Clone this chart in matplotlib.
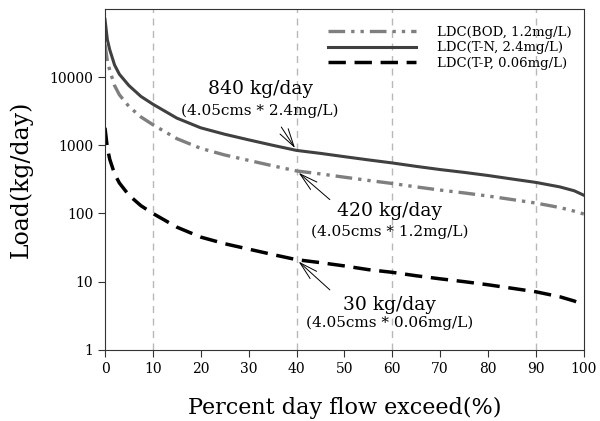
import numpy as np
import matplotlib
matplotlib.use("Agg")
import matplotlib.pyplot as plt
import matplotlib.ticker as ticker

plt.rcParams['font.family'] = ['DejaVu Serif']

# percent of days the flow is exceeded
pct = [0, 0.5, 1, 2, 3, 5, 7.5, 10, 15, 20, 25, 30, 35, 40, 45, 50,
       55, 60, 65, 70, 75, 80, 85, 90, 95, 98, 100]

# load duration curves (kg/day)
bod = [30000, 17000, 12500, 7500, 5500, 3700, 2600, 2000, 1250, 900, 720, 600,
       500, 420, 380, 340, 305, 275, 245, 220, 200, 180, 160, 142, 122, 108, 98]
tn = [70000, 35000, 25000, 15000, 11000, 7500, 5200, 4000, 2500, 1800, 1450, 1200,
      1000, 840, 760, 680, 610, 550, 490, 440, 400, 360, 320, 285, 245, 215, 185]
tp = [1800, 900, 620, 380, 280, 185, 130, 100, 63, 45, 36, 30,
      25, 21, 19, 17, 15, 13.7, 12.2, 11, 10, 9, 8, 7.1, 6, 5.2, 4.6]

labels = ['LDC(BOD, 1.2mg/L)', 'LDC(T-N, 2.4mg/L)', 'LDC(T-P, 0.06mg/L)']
grid_x = [10, 40, 60, 90]

fig = plt.figure(figsize=(6, 4.21), dpi=100)
ax = fig.add_axes([0.175, 0.169, 0.798, 0.810])

for gx in grid_x:
    ax.axvline(gx, color='#b8b8b8', lw=1, ls=(0, (5, 4)), zorder=1)

ax.plot(pct, bod, color='#7f7f7f', lw=2.4, ls=(0, (5, 1.8, 1, 1.8, 1, 1.8)), label=labels[0])
ax.plot(pct, tn, color='#404040', lw=2.2, label=labels[1])
ax.plot(pct, tp, color='black', lw=2.5, ls=(0, (5, 2.5)), label=labels[2])

ax.set_yscale('log')
ax.set_ylim(1, 100000)
ax.set_xlim(0, 100)
ax.set_yticks([1, 10, 100, 1000, 10000])
ax.yaxis.set_major_formatter(ticker.FuncFormatter(lambda v, p: '%d' % v))
ax.yaxis.set_minor_locator(ticker.NullLocator())
ax.set_xticks(np.arange(0, 101, 10))
ax.tick_params(labelsize=10, length=5, color='#333333')

ax.set_xlabel('Percent day flow exceed(%)', fontsize=16, labelpad=15)
ax.set_ylabel('Load(kg/day)', fontsize=17, labelpad=12)
for s in ax.spines.values():
    s.set_color('#333333')

ax.legend(loc='upper right', frameon=False, fontsize=9.5, handlelength=6.7,
          labelspacing=0.2, handletextpad=1.6, bbox_to_anchor=(1.0, 0.985))

arrow = dict(arrowstyle='->,head_length=1.3,head_width=0.35', color='black', lw=0.7)
ax.annotate('', xy=(40, 840), xytext=(36.5, 2000), arrowprops=arrow)
ax.text(32.4, 6600, '840 kg/day', fontsize=13.5, ha='center', va='center')
ax.text(32.4, 3200, '(4.05cms * 2.4mg/L)', fontsize=11, ha='center', va='center')

ax.annotate('', xy=(40, 420), xytext=(47.4, 150), arrowprops=arrow)
ax.text(59.5, 107, '420 kg/day', fontsize=13.5, ha='center', va='center')
ax.text(59.5, 54, '(4.05cms * 1.2mg/L)', fontsize=11, ha='center', va='center')

ax.annotate('', xy=(40, 21), xytext=(47.4, 7.1), arrowprops=arrow)
ax.text(59.5, 4.6, '30 kg/day', fontsize=13.5, ha='center', va='center')
ax.text(59.5, 2.5, '(4.05cms * 0.06mg/L)', fontsize=11, ha='center', va='center')

fig.savefig('out.png', dpi=100)
